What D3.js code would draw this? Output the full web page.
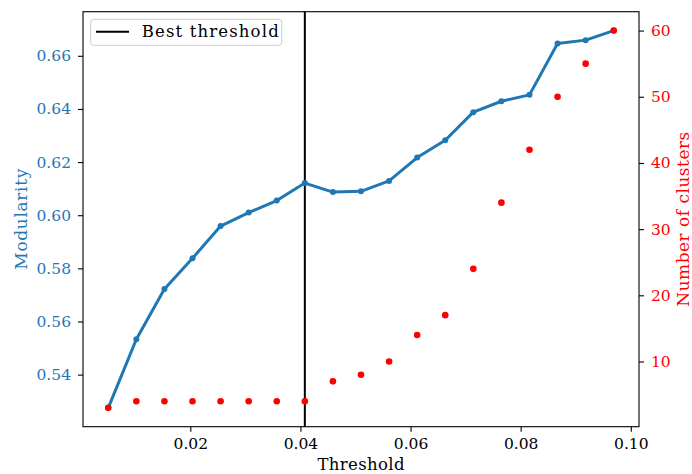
<!DOCTYPE html>
<html>
<head>
<meta charset="utf-8">
<script src="https://cdn.jsdelivr.net/npm/d3@7"></script>
<style>
  html, body { margin: 0; padding: 0; background: #fff; }
  svg { display: block; }
  text { font-family: "DejaVu Serif", serif; }
</style>
</head>
<body>
<svg id="chart" width="692" height="474"></svg>
<script>
// Threshold sweep: modularity and number of clusters per threshold
const thresholds = [0.0051, 0.0102, 0.0153, 0.0204, 0.0255, 0.0306, 0.0357, 0.0408, 0.0459, 0.0510,
                    0.0561, 0.0612, 0.0663, 0.0714, 0.0765, 0.0816, 0.0867, 0.0918, 0.0969];
const modularity = [0.5275, 0.5533, 0.5722, 0.5838, 0.5959, 0.6010, 0.6055, 0.6121, 0.6087, 0.6090,
                    0.6129, 0.6217, 0.6282, 0.6388, 0.6429, 0.6453, 0.6646, 0.6659, 0.6695];
const clusters = [3, 4, 4, 4, 4, 4, 4, 4, 7, 8, 10, 14, 17, 24, 34, 42, 50, 55, 60];
const bestThreshold = 0.0408;

const xTicks = [0.02, 0.04, 0.06, 0.08, 0.10];
const xTickLabels = ["0.02", "0.04", "0.06", "0.08", "0.10"];
const modTicks = [0.54, 0.56, 0.58, 0.60, 0.62, 0.64, 0.66];
const modTickLabels = ["0.54", "0.56", "0.58", "0.60", "0.62", "0.64", "0.66"];
const clusterTicks = [10, 20, 30, 40, 50, 60];
const clusterTickLabels = ["10", "20", "30", "40", "50", "60"];

const BLUE = "#1f77b4";
const RED = "#ff0000";

const W = 692, H = 474;
const m = { left: 83, right: 53, top: 11.7, bottom: 47.3 };
const iw = W - m.left - m.right, ih = H - m.top - m.bottom;

// autoscale with 5% padding on each side
function padded(vals) {
  const [a, b] = d3.extent(vals);
  const p = (b - a) * 0.05;
  return [a - p, b + p];
}

const x = d3.scaleLinear().domain(padded(thresholds)).range([0, iw]);
const yMod = d3.scaleLinear().domain(padded(modularity)).range([ih, 0]);
const yCl = d3.scaleLinear().domain(padded(clusters)).range([ih, 0]);

const svg = d3.select("#chart");
const g = svg.append("g").attr("transform", `translate(${m.left},${m.top})`);

// axes
const tickFont = "15.5px";
const xAxis = g.append("g").attr("transform", `translate(0,${ih})`)
  .call(d3.axisBottom(x).tickValues(xTicks).tickFormat((d, i) => xTickLabels[i])
    .tickSize(5).tickPadding(6.3).tickSizeOuter(0));
xAxis.selectAll("text").attr("fill", "#000").style("font-size", tickFont);

const yAxisL = g.append("g")
  .call(d3.axisLeft(yMod).tickValues(modTicks).tickFormat((d, i) => modTickLabels[i])
    .tickSize(5).tickPadding(7).tickSizeOuter(0));
yAxisL.selectAll("text").attr("fill", BLUE).style("font-size", tickFont);

const yAxisR = g.append("g").attr("transform", `translate(${iw},0)`)
  .call(d3.axisRight(yCl).tickValues(clusterTicks).tickFormat((d, i) => clusterTickLabels[i])
    .tickSize(5).tickPadding(7).tickSizeOuter(0));
yAxisR.selectAll("text").attr("fill", RED).style("font-size", tickFont);

[xAxis, yAxisL, yAxisR].forEach(a => {
  a.select(".domain").remove();
  a.selectAll(".tick line").attr("stroke", "#000").attr("stroke-width", 1.1);
});

// frame
g.append("rect").attr("x", 0).attr("y", 0).attr("width", iw).attr("height", ih)
  .attr("fill", "none").attr("stroke", "#000").attr("stroke-width", 1.1);

// best threshold marker line
g.append("line")
  .attr("x1", x(bestThreshold)).attr("x2", x(bestThreshold))
  .attr("y1", 0).attr("y2", ih)
  .attr("stroke", "#000").attr("stroke-width", 2);

// modularity line with markers
const pts = thresholds.map((t, i) => [t, modularity[i]]);
g.append("path").datum(pts)
  .attr("fill", "none").attr("stroke", BLUE).attr("stroke-width", 3)
  .attr("stroke-linejoin", "round")
  .attr("d", d3.line().x(d => x(d[0])).y(d => yMod(d[1])));
g.selectAll("circle.mod").data(pts).join("circle").attr("class", "mod")
  .attr("cx", d => x(d[0])).attr("cy", d => yMod(d[1])).attr("r", 3)
  .attr("fill", BLUE);

// cluster counts as dots
g.selectAll("circle.cl").data(thresholds.map((t, i) => [t, clusters[i]])).join("circle")
  .attr("class", "cl")
  .attr("cx", d => x(d[0])).attr("cy", d => yCl(d[1])).attr("r", 3.3)
  .attr("fill", RED);

// axis labels
svg.append("text").text("Threshold")
  .attr("x", m.left + iw / 2).attr("y", 469.5)
  .attr("text-anchor", "middle").attr("fill", "#000")
  .style("font-size", "16.5px").attr("textLength", 87).attr("lengthAdjust", "spacing");

svg.append("text").text("Modularity")
  .attr("transform", `translate(20.7,${m.top + ih / 2}) rotate(-90)`)
  .attr("dy", "0.35em").attr("text-anchor", "middle").attr("fill", BLUE)
  .style("font-size", "17px").attr("textLength", 101).attr("lengthAdjust", "spacing");

svg.append("text").text("Number of clusters")
  .attr("transform", `translate(683.3,${m.top + ih / 2}) rotate(-90)`)
  .attr("dy", "0.35em").attr("text-anchor", "middle").attr("fill", RED)
  .style("font-size", "17px").attr("textLength", 175).attr("lengthAdjust", "spacing");

// legend
const lg = g.append("g").attr("transform", "translate(7.7,7.6)");
lg.append("rect").attr("width", 191).attr("height", 26).attr("rx", 3)
  .attr("fill", "#fff").attr("fill-opacity", 0.85)
  .attr("stroke", "#cccccc").attr("stroke-width", 1);
lg.append("line").attr("x1", 5.3).attr("x2", 38.3).attr("y1", 12.4).attr("y2", 12.4)
  .attr("stroke", "#000").attr("stroke-width", 2);
lg.append("text").text("Best threshold")
  .attr("x", 51).attr("y", 12.4).attr("dy", "0.35em").attr("fill", "#000")
  .style("font-size", "16.5px").attr("textLength", 137).attr("lengthAdjust", "spacing");
</script>
</body>
</html>
